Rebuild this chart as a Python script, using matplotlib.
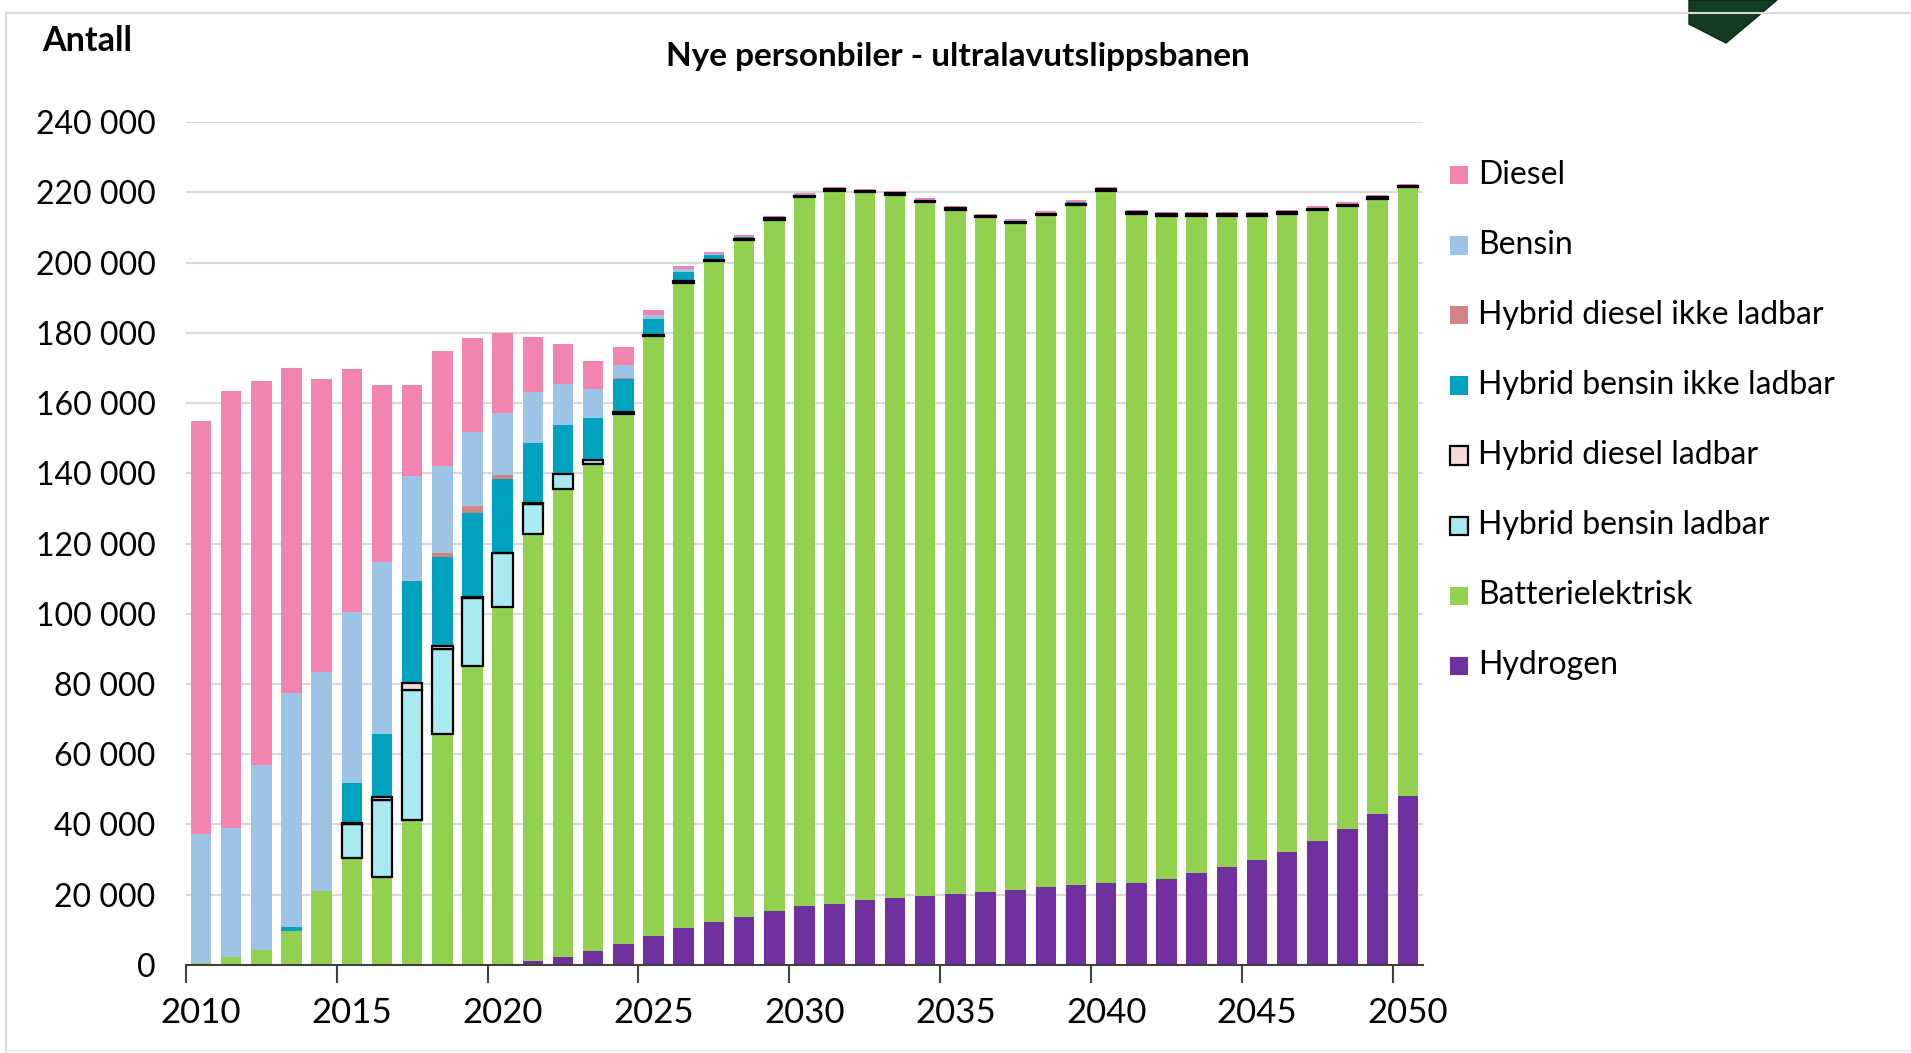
import matplotlib.pyplot as plt
import numpy as np
from matplotlib.patches import Rectangle, Polygon

years = list(range(2010, 2051))

# values in thousands of cars
hydrogen = [0, 0, 0, 0, 0, 0, 0, 0, 0, 0, 0,
            1.1, 2.2, 3.9, 6.1, 8.3, 10.4, 12.1, 13.8, 15.4, 16.9,
            17.5, 18.5, 19.1, 19.7, 20.1, 20.7, 21.3, 22.3, 22.9, 23.4,
            23.4, 24.5, 26.1, 27.8, 29.9, 32.1, 35.3, 38.6, 42.9, 48.2]
# top of the green segment (hydrogen + battery)
green_top = [0.5, 2.2, 4.4, 9.6, 21.1, 30.5, 25.1, 41.4, 65.9, 85.2, 101.9,
             122.6, 135.6, 142.7, 156.9, 179.0, 194.1, 200.3, 206.3, 212.2, 218.6,
             220.5, 220.0, 219.3, 217.1, 215.0, 212.9, 211.2, 213.4, 216.5, 220.5,
             213.9, 213.3, 213.3, 213.3, 213.3, 213.9, 214.9, 216.0, 218.2, 221.4]
battery = [g - h for g, h in zip(green_top, hydrogen)]
hyb_bensin_lad = [0, 0, 0, 0, 0, 9.5, 21.8, 36.9, 24.2, 19.4, 15.3,
                  8.7, 4.3, 1.2, 0.5, 0.5, 0.5, 0.5, 0.4, 0.4, 0.3,
                  0.4, 0.4, 0.4, 0.4, 0.4, 0.4, 0.3, 0.4, 0.3, 0.4,
                  0.4, 0.4, 0.4, 0.4, 0.4, 0.4, 0.4, 0.4, 0.4, 0.4]
hyb_diesel_lad = [0, 0, 0, 0, 0, 0.3, 1.0, 2.0, 0.6, 0.3, 0.2,
                  0.1, 0, 0, 0, 0, 0, 0, 0, 0, 0,
                  0, 0, 0, 0, 0, 0, 0, 0, 0, 0,
                  0, 0, 0, 0, 0, 0, 0, 0, 0, 0]
hyb_bensin_ikke = [0, 0, 0, 1.3, 0, 11.5, 18.0, 29.0, 25.5, 23.8, 21.0,
                   17.1, 13.7, 11.9, 9.3, 4.5, 2.8, 1.3, 0.5, 0.1, 0.4,
                   0.1, 0.1, 0.1, 0.1, 0.1, 0.1, 0.4, 0.1, 0.4, 0.1,
                   0.1, 0.1, 0.1, 0.1, 0.1, 0.1, 0.1, 0.1, 0.1, 0.1]
hyb_diesel_ikke = [0, 0, 0, 0, 0, 0, 0, 0, 1.2, 2.1, 1.0,
                   0, 0, 0, 0.4, 0, 0, 0, 0, 0, 0,
                   0, 0, 0, 0, 0, 0, 0, 0, 0, 0,
                   0, 0, 0, 0, 0, 0, 0, 0, 0, 0]
bensin = [36.8, 36.8, 52.5, 66.5, 62.3, 48.8, 48.9, 29.9, 24.8, 21.0, 17.8,
          14.6, 11.8, 8.2, 3.8, 1.1, 0.7, 0.3, 0.2, 0.1, 0.1,
          0.1, 0.1, 0.1, 0.1, 0.1, 0.1, 0.1, 0.1, 0.1, 0.1,
          0.1, 0.1, 0.1, 0.1, 0.1, 0.1, 0.1, 0.1, 0.1, 0.1]
diesel = [117.5, 124.5, 109.3, 92.6, 83.3, 69.2, 50.3, 25.9, 32.6, 26.6, 22.8,
          15.6, 11.3, 8.0, 5.0, 1.5, 0.9, 0.5, 0.4, 0.4, 0.4,
          0.3, 0.4, 0.4, 0.6, 0.4, 0.4, 0.4, 0.6, 0.5, 0.3,
          0.5, 0.6, 0.6, 0.6, 0.6, 0.5, 0.5, 0.5, 0.5, 0.5]

series = [
    ("Hydrogen", hydrogen, "#7030A0", False),
    ("Batterielektrisk", battery, "#92D050", False),
    ("Hybrid bensin ladbar", hyb_bensin_lad, "#A9E9F0", True),
    ("Hybrid diesel ladbar", hyb_diesel_lad, "#F2DCDB", True),
    ("Hybrid bensin ikke ladbar", hyb_bensin_ikke, "#00A3BF", False),
    ("Hybrid diesel ikke ladbar", hyb_diesel_ikke, "#D28383", False),
    ("Bensin", bensin, "#9DC3E6", False),
    ("Diesel", diesel, "#F384B0", False),
]

plt.rcParams['font.family'] = ['Lato', 'DejaVu Sans']

fig = plt.figure(figsize=(19.11, 10.53), dpi=100)
ax = fig.add_axes([0.0973, 0.0836, 0.6473, 0.8005])

x = np.arange(len(years))
bottom = np.zeros(len(years))
for name, vals, col, edged in series:
    v = np.array(vals) * 1000
    if edged:
        lw = np.where(v > 0, 1.6, 0)
        ax.bar(x, v, 0.68, bottom=bottom, color=col, edgecolor="black", linewidth=lw, zorder=3)
    else:
        ax.bar(x, v, 0.68, bottom=bottom, color=col, linewidth=0, zorder=2)
    bottom += v

ax.set_xlim(-0.5, len(years) - 0.5)
ax.set_ylim(0, 240000)
yt = np.arange(0, 240001, 20000)
ax.set_yticks(yt)
ax.set_yticklabels(["0" if t == 0 else f"{t // 1000} 000" for t in yt], fontsize=23)
ax.tick_params(axis="y", length=0, pad=22)
ax.yaxis.grid(True, color="#D9D9D9", linewidth=1.5, zorder=0)
ax.set_axisbelow(True)

# ticks sit on category boundaries, labels on the bars
ax.set_xticks(x[::5] - 0.5)
ax.set_xticklabels([])
ax.set_xticks(x[::5], minor=True)
ax.set_xticklabels([str(y) for y in years[::5]], minor=True, fontsize=25)
ax.tick_params(axis="x", which="major", length=13, width=1.5, color="#404040")
ax.tick_params(axis="x", which="minor", length=0, pad=23)

for s in ["top", "right", "left"]:
    ax.spines[s].set_visible(False)
ax.spines["bottom"].set_color("#404040")
ax.spines["bottom"].set_linewidth(1.5)

fig.text(0.5013, 0.946, "Nye personbiler - ultralavutslippsbanen", ha="center", va="center",
         fontsize=24, fontweight="bold")
fig.text(0.0455, 0.961, "Antall", ha="center", va="center", fontsize=24.5, fontweight="bold")

# legend, drawn by hand to match spacing
for i, (name, vals, col, edged) in enumerate(series[::-1]):
    yc = 1 - (175.5 + 70 * i) / 1053
    fig.patches.append(Rectangle((1450 / 1911, yc - 9 / 1053), 18 / 1911, 18 / 1053,
                                 transform=fig.transFigure, facecolor=col,
                                 edgecolor="black" if edged else col,
                                 linewidth=1.6 if edged else 0))
    fig.text(1478 / 1911, yc, name, ha="left", va="center", fontsize=23)

# frame of the screenshot
fig.add_artist(plt.Line2D([6 / 1911, 1], [1 - 13 / 1053, 1 - 13 / 1053], color="#D9D9D9",
                          linewidth=1.5, transform=fig.transFigure))
fig.add_artist(plt.Line2D([6 / 1911, 6 / 1911], [0, 1 - 13 / 1053], color="#D9D9D9",
                          linewidth=1.5, transform=fig.transFigure))
fig.add_artist(plt.Line2D([6 / 1911, 1], [2 / 1053, 2 / 1053], color="#EEEEEE",
                          linewidth=1.5, transform=fig.transFigure))
# dark green logo piece at the top edge
pts = [(1689, 0), (1777, 0), (1726, 43), (1689, 24)]
fig.patches.append(Polygon([(px / 1911, 1 - py / 1053) for px, py in pts], closed=True,
                           transform=fig.transFigure, facecolor="#123D22", edgecolor="#0A2614"))

fig.savefig("out.png", dpi=100)
